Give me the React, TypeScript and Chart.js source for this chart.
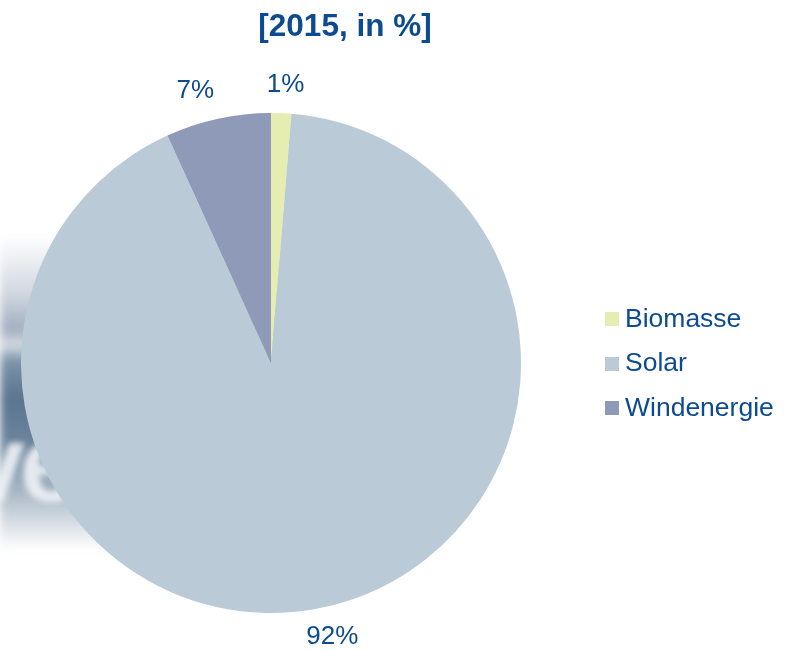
import React, { useEffect, useRef } from "react";
import { Chart, registerables } from "chart.js";

Chart.register(...registerables);

const categories = ["Biomasse", "Solar", "Windenergie"];
const shares = [1.3, 91.9, 6.8];
const valueLabels = ["1%", "92%", "7%"];
const colors = ["#e6edb0", "#bacbd7", "#8f99b8"];
const titleText = "[2015, in %]";
const textColor = "#0d4b91";
const FONT = "'Liberation Sans', Arial, sans-serif";

const outsideLabels = {
  id: "outsideLabels",
  afterDatasetsDraw(chart: any) {
    const ctx = chart.ctx;
    const meta = chart.getDatasetMeta(0);
    ctx.save();
    ctx.fillStyle = textColor;
    ctx.font = `26px ${FONT}`;
    ctx.textAlign = "center";
    ctx.textBaseline = "middle";
    meta.data.forEach((arc: any, i: number) => {
      const mid = (arc.startAngle + arc.endAngle) / 2;
      const r = arc.outerRadius;
      const x = arc.x + Math.cos(mid) * (r + 107);
      const y = arc.y + Math.sin(mid) * (r + 28);
      ctx.fillText(valueLabels[i], x, y);
    });
    ctx.restore();
  },
};

export default function App() {
  const ref = useRef<HTMLCanvasElement>(null);
  useEffect(() => {
    if (!ref.current) return;
    const chart = new Chart(ref.current, {
      type: "pie",
      data: {
        labels: categories,
        datasets: [
          {
            data: shares,
            backgroundColor: colors,
            borderWidth: 0,
          },
        ],
      },
      options: {
        animation: false,
        responsive: false,
        layout: { padding: { left: 21, right: 267, top: 113, bottom: 38 } },
        plugins: {
          legend: { display: false },
          tooltip: { enabled: false },
          title: { display: false },
        },
      },
      plugins: [outsideLabels],
    });
    return () => chart.destroy();
  }, []);

  return (
    <div
      style={{
        position: "fixed",
        left: 0,
        top: 0,
        width: 788,
        height: 651,
        background: "#ffffff",
        overflow: "hidden",
        fontFamily: FONT,
      }}
    >
      {/* faded background decoration on the left */}
      <div
        style={{
          position: "absolute",
          left: 0,
          top: 235,
          width: 320,
          height: 315,
          background:
            "linear-gradient(to bottom, rgba(255,255,255,0) 0%, #d3d9e2 18%, #a3afc0 30%, #d6dde5 35%, #7d93a9 40%, #5a7590 52%, #6e879e 68%, #b9c5d0 85%, rgba(255,255,255,0) 100%)",
          filter: "blur(4px)",
        }}
      />
      <div
        style={{
          position: "absolute",
          left: -36,
          top: 408,
          fontSize: 110,
          fontWeight: "bold",
          color: "rgba(238,242,246,0.9)",
          filter: "blur(3px)",
          letterSpacing: -6,
          lineHeight: "110px",
        }}
      >
        ve
      </div>
      <canvas
        ref={ref}
        width={788}
        height={651}
        style={{ position: "absolute", left: 0, top: 0 }}
      />
      <div
        style={{
          position: "absolute",
          left: 0,
          width: 690,
          top: 7,
          textAlign: "center",
          fontSize: 31.5,
          fontWeight: "bold",
          color: textColor,
          lineHeight: "36px",
        }}
      >
        {titleText}
      </div>
      <div style={{ position: "absolute", left: 605, top: 296 }}>
        {categories.map((c, i) => (
          <div
            key={c}
            style={{
              display: "flex",
              alignItems: "center",
              height: 44.5,
              fontSize: 26.5,
              color: textColor,
            }}
          >
            <span
              style={{
                display: "inline-block",
                width: 14,
                height: 14,
                background: colors[i],
                marginRight: 6,
                marginTop: 2,
              }}
            />
            <span>{c}</span>
          </div>
        ))}
      </div>
    </div>
  );
}
